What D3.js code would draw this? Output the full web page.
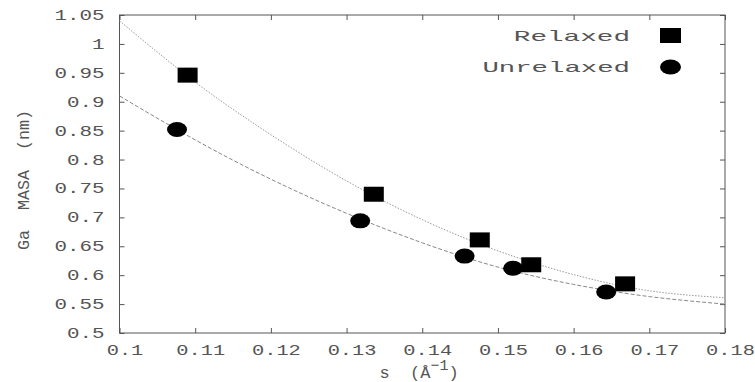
<!DOCTYPE html>
<html>
<head>
<meta charset="utf-8">
<script src="https://cdn.jsdelivr.net/npm/d3@7"></script>
<style>
  body { margin: 0; background: #fff; }
  text { font-family: "Liberation Mono", "DejaVu Sans Mono", monospace; fill: #555; white-space: pre; }
</style>
</head>
<body>
<div id="chart"></div>
<script>
// Messpunkte
var relaxedS = [0.109, 0.1336, 0.1476, 0.1544, 0.1668];
var relaxedM = [0.946, 0.740, 0.661, 0.618, 0.585];
var unrelaxedS = [0.1076, 0.1318, 0.1456, 0.152, 0.1643];
var unrelaxedM = [0.852, 0.694, 0.633, 0.612, 0.571];

// Fitkurven
var fitS = [0.10, 0.11, 0.12, 0.13, 0.14, 0.15, 0.16, 0.17, 0.18];
var fitRelaxed = [1.040, 0.934, 0.843, 0.763, 0.696, 0.642, 0.601, 0.573, 0.561];
var fitUnrelaxed = [0.910, 0.834, 0.766, 0.707, 0.656, 0.614, 0.584, 0.563, 0.550];

var xTicks = [0.1, 0.11, 0.12, 0.13, 0.14, 0.15, 0.16, 0.17, 0.18];
var yTicks = [0.5, 0.55, 0.6, 0.65, 0.7, 0.75, 0.8, 0.85, 0.9, 0.95, 1, 1.05];

var W = 755, H = 382;
var pL = 119.5, pR = 725, pT = 15, pB = 333;

var svg = d3.select("#chart")
  .append("svg")
    .attr("width", W)
    .attr("height", H);

var x = d3.scaleLinear().domain([0.1, 0.18]).range([pL, pR]);
var y = d3.scaleLinear().domain([0.5, 1.05]).range([pB, pT]);

var fmt = function(d) { return String(+d.toFixed(2)); };

// breite Schrift wie im Original
function stretch(sel, perChar) {
  sel.attr("textLength", function() { return this.textContent.length * perChar; })
     .attr("lengthAdjust", "spacingAndGlyphs");
}

// Achsen, Ticks nach innen
var gx = svg.append("g")
  .attr("transform", "translate(0," + pB + ")")
  .call(d3.axisBottom(x).tickValues(xTicks).tickFormat(fmt).tickSizeInner(-5).tickSizeOuter(0).tickPadding(12));
var gxTop = svg.append("g")
  .attr("transform", "translate(0," + pT + ")")
  .call(d3.axisTop(x).tickValues(xTicks).tickFormat("").tickSizeInner(-5).tickSizeOuter(0));
var gy = svg.append("g")
  .attr("transform", "translate(" + pL + ",0)")
  .call(d3.axisLeft(y).tickValues(yTicks).tickFormat(fmt).tickSizeInner(-5).tickSizeOuter(0).tickPadding(15));
var gyRight = svg.append("g")
  .attr("transform", "translate(" + pR + ",0)")
  .call(d3.axisRight(y).tickValues(yTicks).tickFormat("").tickSizeInner(-5).tickSizeOuter(0));

[gx, gxTop, gy, gyRight].forEach(function(g) {
  g.select(".domain").remove();
  g.selectAll("line").attr("stroke", "#555");
  g.selectAll("text").attr("font-size", 14).attr("fill", "#555")
    .attr("font-family", "Liberation Mono, monospace");
});
gx.selectAll("text").attr("x", 5);
stretch(gx.selectAll("text"), 12.2);
stretch(gy.selectAll("text"), 12.5);

svg.append("rect")
  .attr("x", pL).attr("y", pT)
  .attr("width", pR - pL).attr("height", pB - pT)
  .attr("fill", "none").attr("stroke", "#555").attr("stroke-width", 1);

// Fitkurven
var line = d3.line()
  .x(function(d, i) { return x(fitS[i]); })
  .y(function(d) { return y(d); })
  .curve(d3.curveNatural);

svg.append("path")
  .attr("d", line(fitRelaxed))
  .attr("fill", "none")
  .attr("stroke", "#999")
  .attr("stroke-width", 1)
  .attr("stroke-dasharray", "1.5,1.5");

svg.append("path")
  .attr("d", line(fitUnrelaxed))
  .attr("fill", "none")
  .attr("stroke", "#888")
  .attr("stroke-width", 1)
  .attr("stroke-dasharray", "4,2");

// Punkte
svg.selectAll(".sq")
  .data(relaxedM)
  .enter().append("rect")
    .attr("class", "sq")
    .attr("x", function(d, i) { return x(relaxedS[i]) - 10; })
    .attr("y", function(d) { return y(d) - 7.5; })
    .attr("width", 20).attr("height", 15)
    .attr("fill", "#000");

svg.selectAll(".ci")
  .data(unrelaxedM)
  .enter().append("ellipse")
    .attr("class", "ci")
    .attr("cx", function(d, i) { return x(unrelaxedS[i]); })
    .attr("cy", function(d) { return y(d); })
    .attr("rx", 10).attr("ry", 7.5)
    .attr("fill", "#000");

// Legende
var leg = svg.append("g");
leg.append("text").attr("x", 630).attr("y", 41).attr("text-anchor", "end")
  .attr("font-size", 15).text("Relaxed").call(stretch, 16.6);
leg.append("rect").attr("x", 660).attr("y", 28).attr("width", 21).attr("height", 15).attr("fill", "#000");
leg.append("text").attr("x", 630).attr("y", 72).attr("text-anchor", "end")
  .attr("font-size", 15).text("Unrelaxed").call(stretch, 16.4);
leg.append("ellipse").attr("cx", 670.5).attr("cy", 67).attr("rx", 10.5).attr("ry", 7.5).attr("fill", "#000");

// Achsentitel
var xl = svg.append("text")
  .attr("x", 419).attr("y", 378)
  .attr("text-anchor", "middle")
  .attr("font-size", 17);
xl.append("tspan").text("s\u00a0\u00a0(Å");
xl.append("tspan").attr("dy", -8).attr("font-size", 15).text("−1");
xl.append("tspan").attr("dy", 8).text(")");

svg.append("text")
  .attr("transform", "translate(29,180) rotate(-90)")
  .attr("text-anchor", "middle")
  .attr("font-size", 17)
  .text("Ga\u00a0\u00a0MASA\u00a0\u00a0(nm)")
  .call(stretch, 10);
</script>
</body>
</html>
